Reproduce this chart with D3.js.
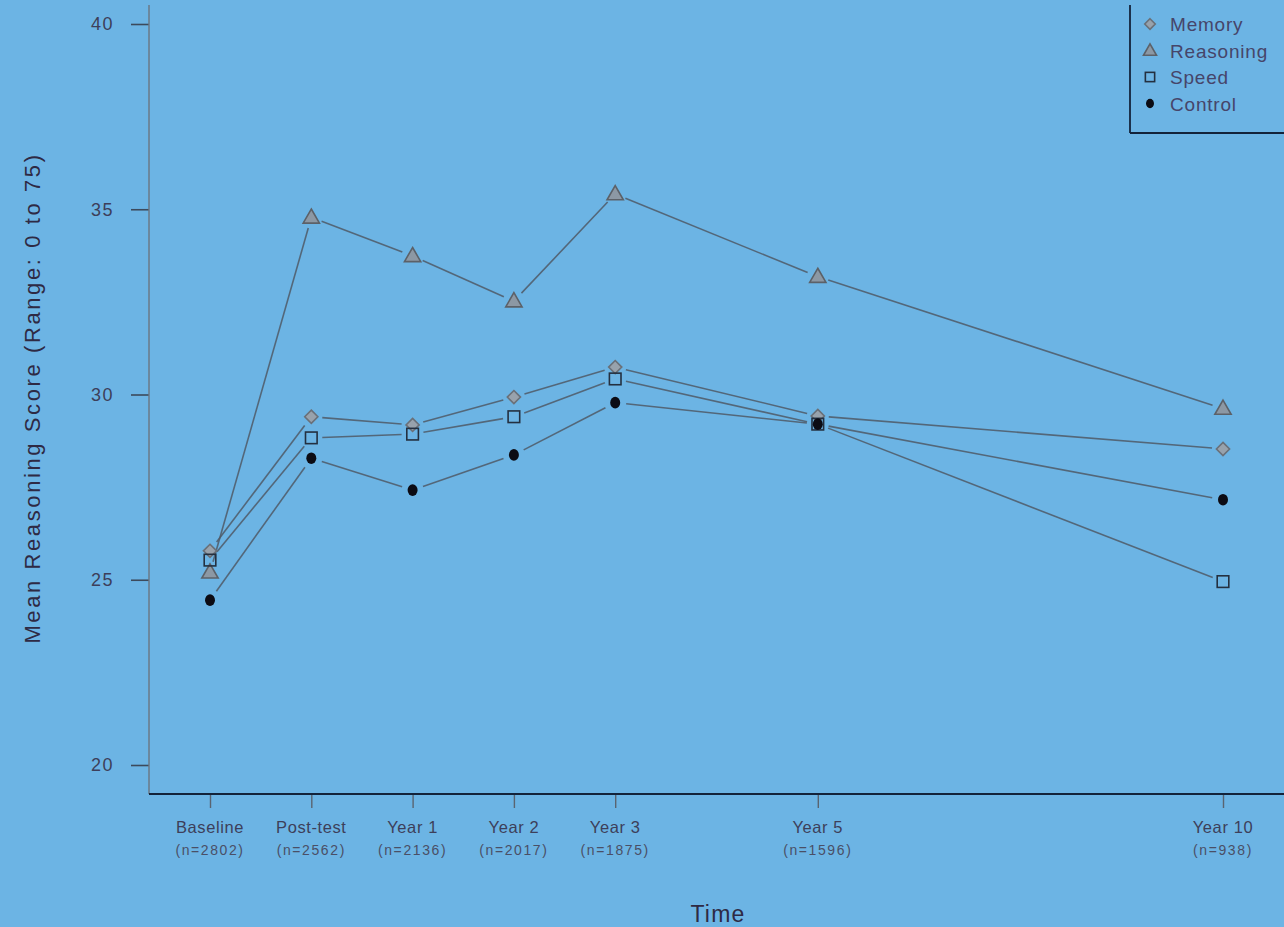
<!DOCTYPE html>
<html>
<head>
<meta charset="utf-8">
<script src="https://cdn.jsdelivr.net/npm/d3@7"></script>
<style>
  html, body { margin: 0; padding: 0; background: #6cb4e4; }
  svg { display: block; }
  text { font-family: "Liberation Sans", Arial, sans-serif; }
</style>
</head>
<body>
<svg id="chart" width="1284" height="927"></svg>
<script>
// Time points (position on a year-like scale) and sample sizes
const timeLabels = ["Baseline", "Post-test", "Year 1", "Year 2", "Year 3", "Year 5", "Year 10"];
const sampleSizes = ["(n=2802)", "(n=2562)", "(n=2136)", "(n=2017)", "(n=1875)", "(n=1596)", "(n=938)"];
const timePos = [0, 1, 2, 3, 4, 6, 10];

// Mean reasoning score by training group
const memory    = [25.78, 29.40, 29.18, 29.93, 30.74, 29.42, 28.53];
const reasoning = [25.20, 34.78, 33.74, 32.52, 35.41, 33.18, 29.62];
const speed     = [25.53, 28.83, 28.93, 29.40, 30.42, 29.20, 24.95];
const control   = [24.45, 28.28, 27.42, 28.37, 29.78, 29.20, 27.16];

const yTicks = [20, 25, 30, 35, 40];
const groupNames = ["Memory", "Reasoning", "Speed", "Control"];

const svg = d3.select("#chart");

const x = d3.scaleLinear().domain([0, 10]).range([210, 1223]);
const y = d3.scaleLinear().domain([20, 40]).range([765, 24]);

const groups = [
  { name: "Memory",    values: memory,    shape: "diamond" },
  { name: "Reasoning", values: reasoning, shape: "triangle" },
  { name: "Speed",     values: speed,     shape: "square" },
  { name: "Control",   values: control,   shape: "circle" }
];

// Axes: left axis in grey, bottom axis as a heavy dark rule
const yAxis = d3.axisLeft(y).tickValues(yTicks).tickSize(18).tickPadding(17);
const gy = svg.append("g").attr("transform", "translate(149,0)").call(yAxis);
gy.select(".domain").remove();
gy.selectAll(".tick line").attr("stroke", "#3c4a5c").attr("stroke-width", 1.6);
gy.selectAll(".tick text").attr("fill", "#3d3f5a").attr("font-size", 18)
  .attr("letter-spacing", 1.5);
svg.append("line").attr("x1", 149).attr("x2", 149).attr("y1", 5).attr("y2", 794)
  .attr("stroke", "#6b7580").attr("stroke-width", 1.4);

const xAxis = d3.axisBottom(x).tickValues(timePos).tickSize(14).tickFormat("");
const gx = svg.append("g").attr("transform", "translate(0,794)").call(xAxis);
gx.select(".domain").remove();
gx.selectAll(".tick line").attr("stroke", "#5a6470").attr("stroke-width", 1.4);
svg.append("line").attr("x1", 149).attr("x2", 1284).attr("y1", 794).attr("y2", 794)
  .attr("stroke", "#13233a").attr("stroke-width", 2.2);

// Two-line x tick labels
timePos.forEach((p, i) => {
  svg.append("text").attr("x", x(p)).attr("y", 833).attr("text-anchor", "middle")
    .attr("font-size", 16.5).attr("letter-spacing", 0.6)
    .attr("fill", "#3d3f5a").text(timeLabels[i]);
  svg.append("text").attr("x", x(p)).attr("y", 855).attr("text-anchor", "middle")
    .attr("font-size", 14).attr("letter-spacing", 1.6)
    .attr("fill", "#4a4f66").text(sampleSizes[i]);
});

// Axis titles
svg.append("text").attr("x", 718).attr("y", 922).attr("text-anchor", "middle")
  .attr("font-size", 23).attr("letter-spacing", 1.2)
  .attr("fill", "#2e2a44").text("Time");
svg.append("text").attr("transform", "translate(40,398) rotate(-90)")
  .attr("text-anchor", "middle").attr("font-size", 22).attr("letter-spacing", 2.6)
  .attr("fill", "#2e2a44")
  .text("Mean Reasoning Score (Range: 0 to 75)");

// Connecting segments with gaps around the points
const gap = 11;
const lineLayer = svg.append("g");
groups.forEach(g => {
  for (let i = 0; i < g.values.length - 1; i++) {
    const x1 = x(timePos[i]), y1 = y(g.values[i]);
    const x2 = x(timePos[i + 1]), y2 = y(g.values[i + 1]);
    const len = Math.hypot(x2 - x1, y2 - y1);
    if (len <= 2 * gap) continue;
    const ux = (x2 - x1) / len, uy = (y2 - y1) / len;
    lineLayer.append("line")
      .attr("x1", x1 + ux * gap).attr("y1", y1 + uy * gap)
      .attr("x2", x2 - ux * gap).attr("y2", y2 - uy * gap)
      .attr("stroke", "#4f5966").attr("stroke-width", 1.6)
      .attr("stroke-opacity", 0.85);
  }
});

// Point symbols
function drawSymbol(sel, shape, cx, cy, scale) {
  const s = scale || 1;
  if (shape === "triangle") {
    sel.append("path")
      .attr("d", d3.symbol(d3.symbolTriangle, 115 * s * s)())
      .attr("transform", `translate(${cx},${cy + 1})`)
      .attr("fill", "#8c98a4").attr("stroke", "#5c6168").attr("stroke-width", 1.6);
  } else if (shape === "diamond") {
    sel.append("path")
      .attr("d", d3.symbol(d3.symbolDiamond2, 110 * s * s)())
      .attr("transform", `translate(${cx},${cy})`)
      .attr("fill", "#98a2ac").attr("stroke", "#6a7078").attr("stroke-width", 1.6);
  } else if (shape === "square") {
    const h = 5.8 * s;
    sel.append("rect").attr("x", cx - h).attr("y", cy - h)
      .attr("width", 2 * h).attr("height", 2 * h)
      .attr("fill", "none").attr("stroke", "#243040").attr("stroke-width", 1.6);
  } else {
    sel.append("ellipse").attr("cx", cx).attr("cy", cy)
      .attr("rx", 5 * s).attr("ry", 5.8 * s).attr("fill", "#0c0c14");
  }
}

const pointLayer = svg.append("g");
groups.forEach(g => {
  g.values.forEach((v, i) => drawSymbol(pointLayer, g.shape, x(timePos[i]), y(v)));
});

// Legend box (left and bottom rules) with entries
svg.append("line").attr("x1", 1130).attr("x2", 1130).attr("y1", 5).attr("y2", 133)
  .attr("stroke", "#13233a").attr("stroke-width", 1.8);
svg.append("line").attr("x1", 1130).attr("x2", 1284).attr("y1", 133).attr("y2", 133)
  .attr("stroke", "#13233a").attr("stroke-width", 1.8);
groups.forEach((g, i) => {
  const ly = 24 + i * 26.5;
  drawSymbol(svg, g.shape, 1150, ly, 0.8);
  svg.append("text").attr("x", 1170).attr("y", ly + 7).attr("font-size", 19)
    .attr("letter-spacing", 0.8)
    .attr("fill", "#46456a").text(groupNames[i]);
});
</script>
</body>
</html>
